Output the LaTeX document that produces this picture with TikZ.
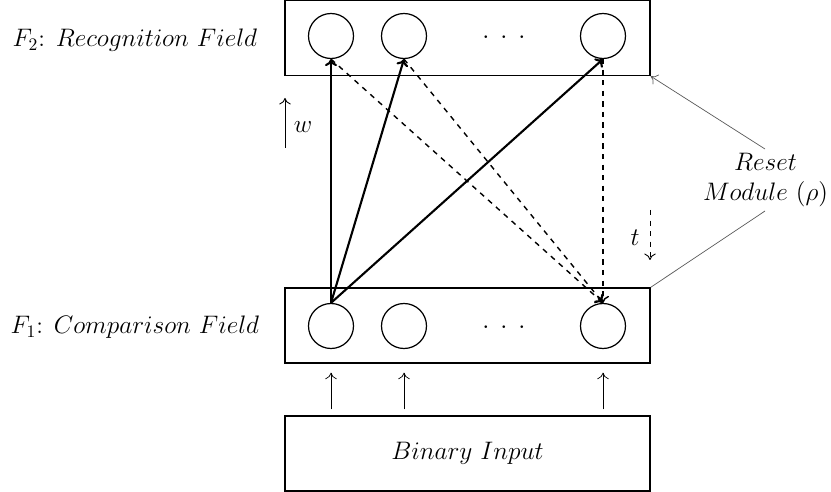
\documentclass[tikz,border=0pt]{standalone}
\usepackage{amsmath,amssymb}
\usetikzlibrary{arrows.meta, positioning}

\begin{document}
\begin{tikzpicture}[
  font=\fontsize{14}{16}\selectfont,
  layer/.style={draw, line width=0.8pt, minimum width=7.3cm, minimum height=1.5cm,
    inner sep=0pt},
  unit/.style={draw, circle, line width=0.7pt, minimum size=0.9cm, inner sep=0pt},
  bottomup/.style={-{To[length=1.4mm, width=2.4mm]}, line width=1.2pt},
  topdown/.style={-{To[length=1.4mm, width=2.4mm]}, line width=0.8pt, dashed},
  feed/.style={-{To[length=1.3mm, width=2.3mm]}, line width=0.4pt,
    shorten <=0.12cm, shorten >=0.18cm},
  note/.style={gray!70!black, line width=0.4pt},
]

% Canvas
\useasboundingbox (0,0) rectangle (16.62,9.84);

% === Layers ===
\node[layer] (recog) at (9.35,9.08) {};
\node[layer] (comp)  at (9.35,3.33) {};
\node[layer] (input) at (9.35,0.77) {$Binary\ Input$};

% Layer labels
\node (recoglbl) at (2.7,9.04) {$F_2$: $Recognition\ Field$};
\node (complbl)  at (2.7,3.30) {$F_1$: $Comparison\ Field$};

% === Units in F2 ===
\node[unit] (f2a) at (6.62,9.12) {};
\node[unit] (f2b) at (8.08,9.12) {};
\node[unit] (f2n) at (12.06,9.12) {};
\node (f2dots) at (10.08,9.08) {${\cdot}\hspace{0.22cm}{\cdot}\hspace{0.22cm}{\cdot}$};

% === Units in F1 ===
\node[unit] (f1a) at (6.62,3.32) {};
\node[unit] (f1b) at (8.08,3.32) {};
\node[unit] (f1n) at (12.06,3.32) {};
\node (f1dots) at (10.08,3.28) {${\cdot}\hspace{0.22cm}{\cdot}\hspace{0.22cm}{\cdot}$};

% === Bottom-up weights w ===
\draw[bottomup] (f1a.north) -- (f2a.south);
\draw[bottomup] (f1a.north) -- (f2b.south);
\draw[bottomup] (f1a.north) -- (f2n.south);

% === Top-down weights t ===
\draw[topdown] (f2a.south) -- (f1n.north);
\draw[topdown] (f2b.south) -- (f1n.north);
\draw[topdown] (f2n.south) -- (f1n.north);

% === Binary input into F1 ===
\draw[feed] (input.north -| f1a) -- (comp.south -| f1a);
\draw[feed] (input.north -| f1b) -- (comp.south -| f1b);
\draw[feed] (input.north -| f1n) -- (comp.south -| f1n);

% === Direction hints ===
\coordinate (wtail) at (5.70,6.88);
\coordinate (whead) at (5.70,7.88);
\draw[-{To[length=1.3mm, width=2.3mm]}, line width=0.5pt] (wtail) -- (whead);
\node (wlbl) at (6.06,7.30) {$w$};

\coordinate (ttail) at (13.00,5.64);
\coordinate (thead) at (13.00,4.64);
\draw[-{To[length=1.3mm, width=2.3mm]}, line width=0.5pt, dashed] (ttail) -- (thead);
\node (tlbl) at (12.70,5.08) {$t$};

% === Reset module ===
\node[align=center] (reset) at (15.31,6.24) {$Reset$\\[1pt] $Module\ (\rho)$};
\coordinate (resettop) at (15.30,6.86);
\coordinate (resetbot) at (15.30,5.62);
\draw[note, -{To[length=1.3mm, width=2.3mm]}] (resettop) -- (recog.south east);
\draw[note] (resetbot) -- (comp.north east);

\end{tikzpicture}
\end{document}
